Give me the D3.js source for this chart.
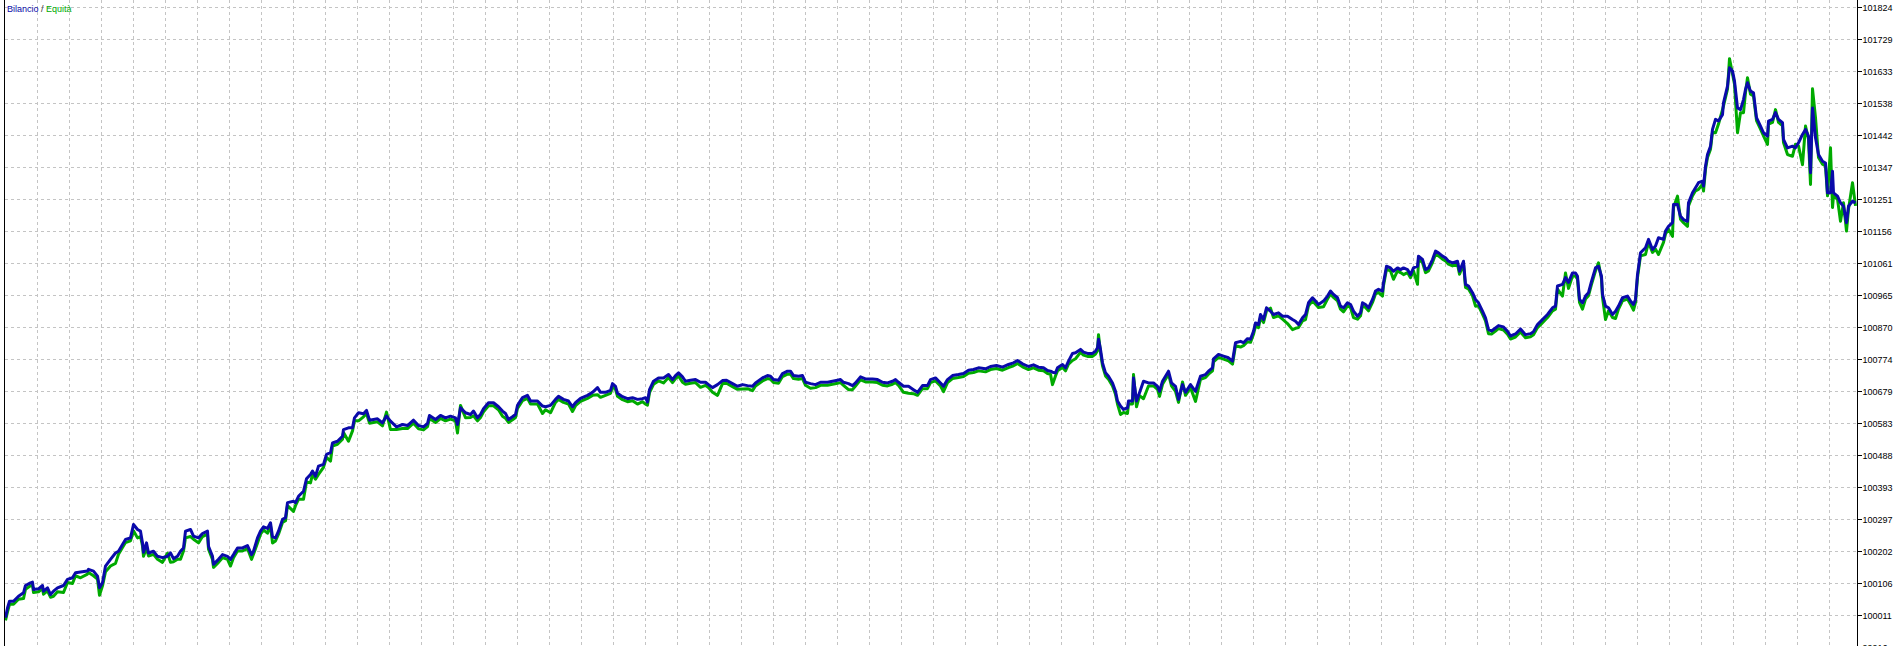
<!DOCTYPE html>
<html><head><meta charset="utf-8">
<script src="https://cdn.jsdelivr.net/npm/d3@7"></script>
<style>html,body{margin:0;padding:0;background:#fff;overflow:hidden}</style>
</head><body>
<svg id="c" width="1901" height="646"></svg>
<script>
const trades = [
0,2,4,8,13,18,20,25,27,28,33,37,38,42,45,48,52,58,62,67,70,75,82,83,88,92,94,97,100,105,110,113,117,120,125,128,132,135,137,138,141,143,148,152,157,162,165,168,172,175,178,180,185,188,193,197,202,203,207,208,213,217,222,225,228,232,237,242,246,248,252,255,258,262,265,267,270,273,277,280,282,288,290,293,298,301,305,307,310,313,318,321,325,327,332,337,338,343,347,349,353,358,361,364,368,
372,377,381,385,391,397,402,408,413,418,422,424,430,435,440,445,450,452,455,460,465,468,472,475,478,483,488,493,497,500,503,507,510,512,517,522,525,532,537,540,545,550,553,558,563,567,570,575,582,587,592,595,600,605,607,610,612,617,622,627,632,637,640,642,644,648,653,658,663,667,670,673,677,680,685,690,695,700,703,707,712,717,721,727,732,737,742,
747,750,757,762,765,768,773,777,782,785,788,793,797,800,805,810,815,822,827,832,835,838,843,847,850,855,860,867,872,877,882,887,890,893,898,903,908,912,917,922,925,930,935,938,942,947,953,958,963,968,
973,980,985,991,997,1003,1008,1012,1017,1023,1028,1033,1038,1042,1045,1047,1050,1052,1057,1060,1063,1067,1070,1075,1078,1082,1087,1090,1092,1093,1095,1097,1100,1103,1107,1110,1112,1115,1118,1122,1123,1127,1128,1131,1134,1138,1143,1148,1152,1154,1157,1160,1163,1166,1170,1173,1177,1180,1185,1190,1195,1200,1203,1207,1208,1213,1218,1223,1227,1230,1235,1238,1242,1245,1248,1250,1253,1255,1258,1261,1265,1268,1273,1277,1282,1287,1290,1293,1297,1300,1303,1307,1310,1313,1318,1322,1325,1328,1332,1335,1338,1342,1345,1348,1352,1355,1357,1360,1363,1367,1370,1373,1377,1378,1381,1385,1388,1392,1395,1398,1402,1405,1408,1412,1413,1417,1420,1423,1427,1430,1433,1437,1440,1443,1447,1452,1454,1458,1460,1463,1467,1470,1473,1477,1480,1483,1486,1490,1493,1498,1502,1505,1510,1515,1520,1525,1528,1532,1537,1542,1547,1550,1552,1557,1560,1563,1567,1570,1572,1574,1577,1580,1583,1586,1590,1593,1596,1597,1600,1603,1607,1610,1613,1617,1622,1625,1628,1630,1632,1635,1640,1643,1647,1650,1653,1658,1660,1663,1667,1668,1672,1675,1678,1682,1683,1687,1690,1693,1697,1698,1700,1702,1705,1707,1710,1713,1717,1718,1722,1724,1727,1729,1732,1735,1738,1740,1742,1745,1748,1751,1755,1758,1762,1763,1767,1770,1773,1777,1778,1782,1787,1790,1793,1797,1800,1803,1805,1807,1810,1813,1817,1820,1822,1825,1827,1828,1832,1835,1838,1841,1843,1847,1850
];
const balance = [
100003,100032,100052,100052,100067,100077,100099,100107,100109,100087,100089,100099,100082,100092,100072,100082,100092,100099,100117,100122,100137,100139,100142,100147,100142,100127,100092,100107,100157,100177,100196,100201,100221,100236,100241,100281,100266,100261,100226,100198,100226,100196,100201,100186,100182,100186,100196,100179,100186,100201,100211,100261,100266,100246,100241,100254,100261,100216,100186,100162,100177,100191,100186,100177,100191,100211,100211,100218,100191,100201,100241,100261,100274,100269,100286,100244,100241,100261,100296,100301,100346,100350,100346,100365,100380,100417,100430,100440,100425,100455,100460,100490,100495,100524,100529,100544,100564,100569,100569,100599,100614,100611,100621,100592,100594,
100596,100584,100604,100589,100572,100579,100576,100592,100576,100572,100582,100606,100594,100606,100599,100604,100599,100579,100629,100614,100609,100619,100599,100609,100626,100644,100644,100632,100619,100612,100594,100602,100609,100636,100659,100666,100649,100649,100634,100632,100636,100654,100663,100654,100649,100632,100644,100657,100666,100675,100689,100675,100675,100681,100701,100693,100672,100662,100656,100659,100654,100656,100659,100646,100683,100708,100718,100718,100728,100713,100725,100733,100721,100708,100711,100713,100705,100705,100698,100689,100698,100710,100711,100701,100693,100698,100695,
100693,100703,100718,100725,100723,100713,100711,100731,100738,100738,100725,100723,100725,100705,100701,100698,100705,100705,100708,100711,100713,100705,100701,100695,100703,100721,100715,100715,100713,100705,100703,100708,100713,100705,100693,100693,100683,100675,100695,100695,100713,100718,100703,100693,100713,100725,100728,100731,100741,100743,
100748,100745,100752,100755,100750,100758,100763,100770,100760,100752,100757,100750,100748,100740,100738,100735,100733,100748,100758,100748,100768,100791,100793,100803,100795,100791,100791,100798,100808,100833,100803,100763,100733,100723,100703,100678,100649,100634,100624,100629,100649,100649,100718,100649,100674,100708,100703,100703,100693,100678,100708,100723,100738,100703,100693,100654,100698,100675,100698,100678,100723,100728,100738,100748,100775,100788,100783,100778,100768,100823,100827,100823,100835,100833,100857,100882,100877,100907,100892,100927,100917,100907,100912,100902,100902,100892,100887,100877,100897,100907,100942,100957,100947,100937,100947,100962,100977,100967,100957,100932,100927,100942,100937,100917,100902,100912,100942,100937,100927,100952,100977,100982,100977,101002,101051,101046,101036,101046,101041,101046,101041,101026,101046,101051,101081,101071,101041,101046,101071,101096,101091,101081,101076,101066,101061,101066,101036,101066,100997,100992,100972,100952,100942,100917,100897,100862,100858,100867,100874,100870,100857,100843,100849,100864,100847,100850,100856,100877,100892,100907,100927,100932,100992,100997,101017,101003,101031,101031,101021,100952,100942,100962,100972,101006,101046,101051,101021,100967,100932,100927,100907,100917,100932,100957,100962,100947,100937,100952,101026,101091,101106,101131,101101,101111,101136,101131,101156,101170,101181,101235,101235,101200,101190,101185,101240,101270,101285,101300,101305,101290,101349,101384,101409,101459,101489,101484,101503,101538,101588,101643,101633,101603,101523,101518,101548,101578,101598,101573,101568,101494,101469,101449,101439,101484,101489,101509,101489,101479,101429,101404,101409,101404,101419,101444,101459,101439,101330,101523,101434,101384,101364,101359,101270,101270,101334,101270,101260,101240,101230,101181,101230,101245,101240
];
const equity = [
99995,100020,100043,100043,100058,100060,100088,100098,100100,100078,100080,100090,100073,100083,100064,100067,100080,100078,100108,100105,100128,100122,100133,100138,100128,100118,100070,100098,100140,100157,100165,100192,100212,100227,100232,100262,100241,100245,100217,100186,100210,100187,100192,100177,100168,100195,100168,100170,100177,100177,100202,100241,100245,100237,100226,100245,100252,100207,100177,100153,100168,100182,100177,100157,100182,100202,100202,100209,100177,100192,100226,100252,100265,100255,100277,100226,100232,100252,100287,100292,100337,100320,100337,100356,100356,100408,100405,100431,100416,100430,100451,100481,100470,100515,100520,100535,100555,100529,100560,100590,100590,100602,100612,100583,100585,
100587,100575,100616,100564,100564,100567,100567,100583,100566,100563,100573,100597,100585,100597,100590,100595,100590,100554,100636,100599,100600,100605,100590,100600,100617,100635,100635,100623,100604,100598,100585,100593,100600,100627,100650,100657,100640,100640,100612,100623,100614,100645,100654,100645,100640,100618,100635,100648,100657,100666,100668,100660,100666,100672,100692,100684,100663,100653,100647,100650,100640,100647,100640,100637,100674,100699,100709,100703,100719,100704,100716,100724,100705,100699,100702,100704,100690,100696,100689,100675,100666,100701,100702,100692,100684,100685,100686,
100680,100694,100709,100716,100714,100704,100702,100722,100729,100729,100716,100714,100716,100696,100687,100689,100696,100696,100699,100702,100704,100696,100683,100683,100694,100712,100706,100706,100704,100696,100694,100699,100704,100696,100675,100672,100671,100666,100686,100686,100704,100709,100694,100677,100704,100716,100719,100722,100732,100734,
100739,100736,100743,100746,100741,100749,100754,100761,100751,100743,100748,100741,100739,100731,100729,100698,100724,100739,100749,100739,100759,100770,100775,100794,100786,100782,100782,100789,100799,100847,100794,100754,100724,100714,100694,100669,100640,100609,100615,100612,100640,100640,100728,100632,100665,100656,100694,100694,100684,100663,100699,100714,100729,100694,100678,100645,100706,100666,100689,100648,100714,100719,100729,100739,100766,100779,100774,100769,100759,100814,100810,100814,100826,100824,100848,100873,100868,100898,100883,100918,100926,100898,100903,100893,100880,100862,100866,100868,100888,100892,100933,100948,100938,100928,100930,100953,100968,100958,100948,100923,100915,100933,100928,100898,100893,100903,100933,100928,100918,100943,100968,100973,100962,100993,101042,101037,101012,101037,101032,101026,101032,101017,101037,100997,101072,101062,101032,101037,101062,101087,101082,101072,101067,101057,101052,101057,101027,101057,100988,100983,100963,100932,100933,100908,100888,100850,100849,100858,100865,100861,100848,100834,100840,100855,100838,100841,100847,100868,100883,100898,100918,100923,100983,100962,101031,100985,101022,101022,101012,100943,100923,100953,100963,100997,101037,101061,101012,100958,100892,100918,100898,100895,100923,100948,100953,100938,100920,100943,101017,101082,101086,101122,101092,101102,101086,101122,101147,101161,101140,101226,101260,101191,101181,101170,101231,101261,101276,101280,101296,101275,101340,101375,101400,101450,101449,101475,101518,101529,101579,101670,101624,101594,101449,101509,101509,101569,101613,101564,101559,101485,101460,101440,101414,101475,101480,101518,101480,101470,101420,101384,101379,101415,101410,101354,101469,101430,101295,101580,101494,101375,101355,101350,101261,101404,101226,101261,101251,101185,101240,101156,101221,101300,101231
];
const yTicks = [99916,100011,100106,100202,100297,100393,100488,100583,100679,100774,100870,100965,101061,101156,101251,101347,101442,101538,101633,101729,101824];
const legendBalance = "Bilancio";
const legendEquity = "Equità";

const W = 1901, H = 646;
const frame = {left: 4.5, right: 1857.5};
const BLUE = "#0a0aaa", GREEN = "#00aa00", GRID = "#c4c4c4";

const svg = d3.select("#c");
svg.append("rect").attr("width", W).attr("height", H).attr("fill", "#fff");

const x = d3.scaleLinear().domain([0, 1850]).range([5.5, 1855.5]);
const y = d3.scaleLinear().domain([100011, 101824]).range([615, 7]);
const py = v => Math.round(y(v)) + 0.5;

// grid
const grid = svg.append("g").attr("stroke", GRID).attr("stroke-width", 1).attr("stroke-dasharray", "3,3").attr("shape-rendering", "crispEdges");
grid.selectAll("line.h").data(yTicks).join("line").attr("class", "h")
  .attr("x1", frame.left).attr("x2", frame.right)
  .attr("y1", py).attr("y2", py);
const xGrid = d3.range(32, 1830, 32);
grid.selectAll("line.v").data(xGrid).join("line").attr("class", "v")
  .attr("x1", d => Math.round(x(d) - 0.5) + 0.5).attr("x2", d => Math.round(x(d) - 0.5) + 0.5)
  .attr("y1", 0).attr("y2", H);

// series
const n = Math.min(trades.length, balance.length, equity.length);
const idx = d3.range(n);
svg.append("clipPath").attr("id", "clp").append("rect")
  .attr("x", frame.left + 0.5).attr("y", 0).attr("width", frame.right - frame.left - 1).attr("height", H);
const lineEq = d3.line().x(i => x(trades[i])).y(i => y(equity[i]));
const lineBal = d3.line().x(i => x(trades[i])).y(i => y(balance[i]));
const series = svg.append("g").attr("clip-path", "url(#clp)");
series.append("path").attr("d", lineEq(idx)).attr("fill", "none").attr("stroke", GREEN).attr("stroke-width", 3).attr("stroke-linejoin", "round");
series.append("path").attr("d", lineBal(idx)).attr("fill", "none").attr("stroke", BLUE).attr("stroke-width", 3).attr("stroke-linejoin", "round");

// frame lines
svg.append("line").attr("x1", frame.left).attr("x2", frame.left).attr("y1", 0).attr("y2", H).attr("stroke", "#000");
svg.append("line").attr("x1", frame.right).attr("x2", frame.right).attr("y1", 0).attr("y2", H).attr("stroke", "#000");

// right axis
const axis = d3.axisRight(y).tickValues(yTicks).tickSize(4).tickSizeOuter(0).tickPadding(1).tickFormat(d3.format("d"));
const ag = svg.append("g").attr("transform", `translate(${frame.right},0)`).call(axis);
ag.select(".domain").remove();
ag.selectAll(".tick").attr("transform", d => `translate(0,${py(d)})`);
ag.selectAll(".tick line").attr("stroke", "#000").attr("shape-rendering", "crispEdges");
ag.selectAll(".tick text").attr("fill", "#000").attr("font-family", "'Liberation Sans', Arial, sans-serif").attr("font-size", 9).attr("dy", "0.42em");

// legend
const lg = svg.append("text").attr("x", 7).attr("y", 12).attr("font-family", "'Liberation Sans', Arial, sans-serif").attr("font-size", 9);
lg.append("tspan").attr("fill", BLUE).text(legendBalance);
lg.append("tspan").attr("fill", "#333").text(" / ");
lg.append("tspan").attr("fill", GREEN).text(legendEquity);
</script>
</body></html>
